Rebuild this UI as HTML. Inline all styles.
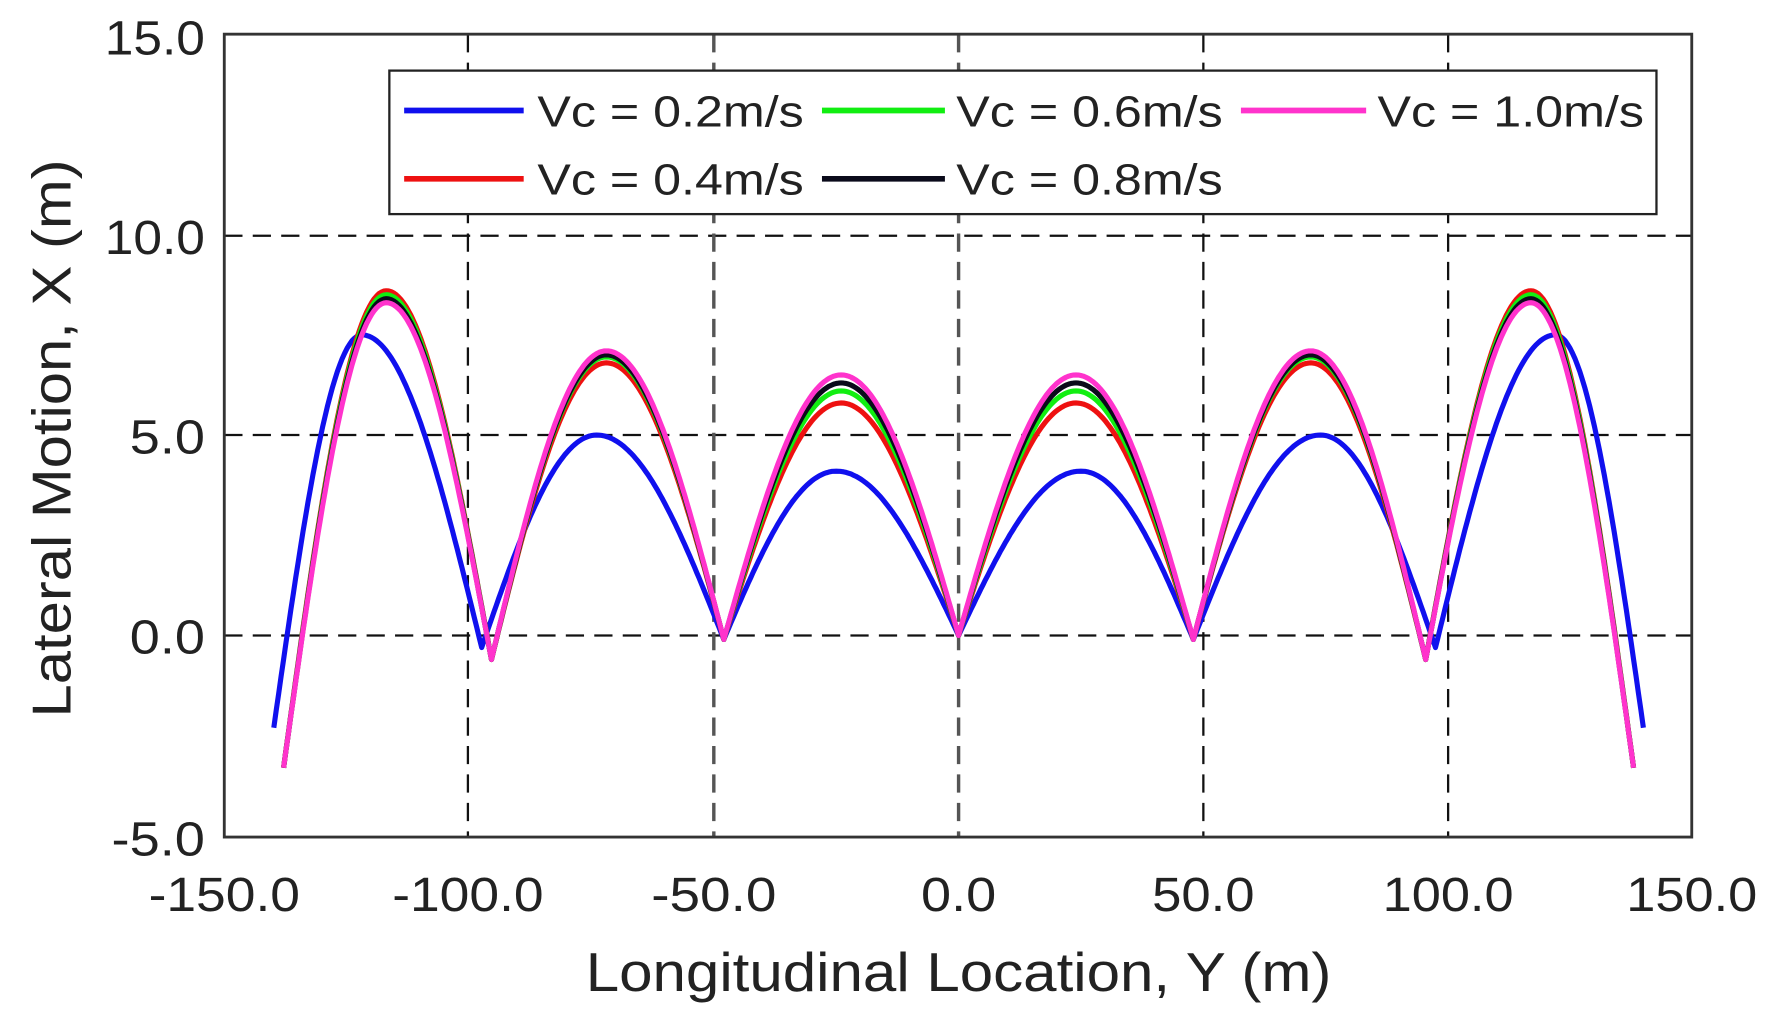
<!DOCTYPE html>
<html><head><meta charset="utf-8"><style>
html,body{margin:0;padding:0;background:#fff;}
svg{display:block;}
text{font-family:"Liberation Sans",sans-serif;fill:#222;}
</style></head><body>
<svg id="s" width="1776" height="1017" viewBox="0 0 1560 893" preserveAspectRatio="none" xmlns="http://www.w3.org/2000/svg">
<rect x="0" y="0" width="1560" height="893" fill="#fff"/>
<g id="grid" stroke="#111" stroke-width="2" stroke-dasharray="16,9" fill="none">
<line x1="197" y1="207" x2="1486" y2="207"/>
<line x1="197" y1="382" x2="1486" y2="382"/>
<line x1="197" y1="558" x2="1486" y2="558"/>
<line x1="411" y1="30" x2="411" y2="735"/>
<line x1="627" y1="30" x2="627" y2="735" stroke="#555" stroke-width="3"/>
<line x1="842" y1="30" x2="842" y2="735" stroke="#555" stroke-width="3"/>
<line x1="1057" y1="30" x2="1057" y2="735"/>
<line x1="1272" y1="30" x2="1272" y2="735"/>
</g>
<g id="curves" fill="none" stroke-width="4.5" stroke-linejoin="round"></g>
<rect x="197" y="30" width="1289" height="705" fill="none" stroke="#333" stroke-width="2.5"/>
<rect x="342" y="62" width="1113" height="126" fill="#fff" stroke="#222" stroke-width="2"/>
<g stroke-width="5">
<line x1="355" y1="97" x2="460" y2="97" stroke="#1010ee"/>
<line x1="722" y1="97" x2="830" y2="97" stroke="#11ee11"/>
<line x1="1090" y1="97" x2="1200" y2="97" stroke="#ff33cc"/>
<line x1="355" y1="157" x2="460" y2="157" stroke="#ee1111"/>
<line x1="722" y1="157" x2="830" y2="157" stroke="#0a0a1a"/>
</g>
<g font-size="38" lengthAdjust="spacingAndGlyphs">
<text x="472" y="111" textLength="234" lengthAdjust="spacingAndGlyphs">Vc = 0.2m/s</text>
<text x="840" y="111" textLength="234" lengthAdjust="spacingAndGlyphs">Vc = 0.6m/s</text>
<text x="1210" y="111" textLength="234" lengthAdjust="spacingAndGlyphs">Vc = 1.0m/s</text>
<text x="472" y="171" textLength="234" lengthAdjust="spacingAndGlyphs">Vc = 0.4m/s</text>
<text x="840" y="171" textLength="234" lengthAdjust="spacingAndGlyphs">Vc = 0.8m/s</text>
</g>
<g font-size="42" text-anchor="end">
<text x="180" y="48" textLength="88" lengthAdjust="spacingAndGlyphs">15.0</text>
<text x="180" y="223" textLength="88" lengthAdjust="spacingAndGlyphs">10.0</text>
<text x="180" y="398" textLength="66" lengthAdjust="spacingAndGlyphs">5.0</text>
<text x="180" y="574" textLength="66" lengthAdjust="spacingAndGlyphs">0.0</text>
<text x="180" y="751" textLength="82" lengthAdjust="spacingAndGlyphs">-5.0</text>
</g>
<g font-size="42" text-anchor="middle">
<text x="197" y="800" textLength="133" lengthAdjust="spacingAndGlyphs">-150.0</text>
<text x="411" y="800" textLength="133" lengthAdjust="spacingAndGlyphs">-100.0</text>
<text x="627" y="800" textLength="110" lengthAdjust="spacingAndGlyphs">-50.0</text>
<text x="842" y="800" textLength="66" lengthAdjust="spacingAndGlyphs">0.0</text>
<text x="1057" y="800" textLength="90" lengthAdjust="spacingAndGlyphs">50.0</text>
<text x="1272" y="800" textLength="115" lengthAdjust="spacingAndGlyphs">100.0</text>
<text x="1486" y="800" textLength="115" lengthAdjust="spacingAndGlyphs">150.0</text>
</g>
<text x="842" y="870" font-size="48" text-anchor="middle" textLength="655" lengthAdjust="spacingAndGlyphs">Longitudinal Location, Y (m)</text>
<text transform="translate(62,385) rotate(-90)" font-size="48" text-anchor="middle" textLength="490" lengthAdjust="spacingAndGlyphs">Lateral Motion, X (m)</text>
</svg>
<script>
function X(v){return 842+v*(1486-197)/300;}
function Y(v){return 558-v*35.2;}
function seg(xs,ys,xp,p,xe,ye,pts){
  for(var x=xs;x<=xe+1e-9;x+=0.5){
    var y;
    if(x<=xp){y=ys+(p-ys)*Math.sin(Math.PI/2*(x-xs)/(xp-xs));}
    else{y=ye+(p-ye)*Math.cos(Math.PI/2*(x-xp)/(xe-xp));}
    pts.push([x,y]);
  }
}
function curve(segs){
  var pts=[];
  segs.forEach(function(s){seg(s[0],s[1],s[2],s[3],s[4],s[5],pts);});
  var left=pts.slice().reverse().map(function(p){return [-p[0],p[1]];});
  var all=left.concat(pts);
  return all.map(function(p){return X(p[0]).toFixed(1)+","+Y(p[1]).toFixed(1);}).join(" ");
}
function std(P1,P2,P3){
  return [[0,0,24,P1,48,-0.1],[48,-0.1,72,P2,95.5,-0.6],[95.5,-0.6,117,P3,138,-3.3]];
}
var series=[
 ["#1010ee",[[0,0,25,4.1,48,-0.1],[48,-0.1,74,5.0,97.5,-0.3],[97.5,-0.3,122,7.5,140,-2.3]]],
 ["#ee1111",std(5.8,6.8,8.6)],
 ["#11ee11",std(6.1,6.95,8.5)],
 ["#0a0a1a",std(6.3,7.0,8.4)],
 ["#ff33cc",std(6.5,7.1,8.3)]
];
var g=document.getElementById("curves");
series.forEach(function(s){
  var pl=document.createElementNS("http://www.w3.org/2000/svg","polyline");
  pl.setAttribute("points",curve(s[1]));
  pl.setAttribute("stroke",s[0]);
  g.appendChild(pl);
});
</script>
</body></html>
